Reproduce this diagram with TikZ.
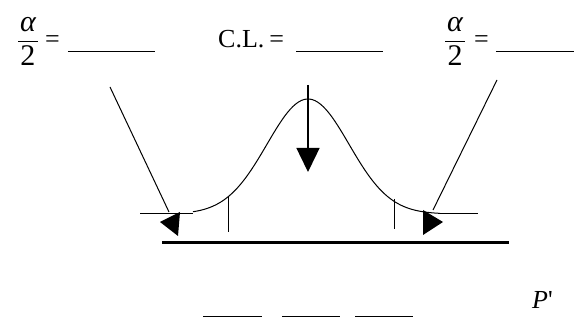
\documentclass[tikz,border=0pt]{standalone}
\usepackage{amsmath}
\usepackage{fontspec}
\setmainfont{Liberation Serif}
\usetikzlibrary{arrows.meta}
\newcommand{\blank}[1]{\rule[-4pt]{#1}{1.3pt}}
\newcommand{\halfalpha}{$\dfrac{\hspace{2pt}\text{\itshape α}\hspace{2pt}}{\text{2}}$}
\tikzset{
  txt/.style  = {inner sep=0pt, font=\fontsize{26}{30}\selectfont},
  frac/.style = {inner sep=0pt, font=\fontsize{30}{34}\selectfont},
  ln/.style   = {line width=1pt, draw=black},
  dn/.style   = {ln, line width=1.4pt, -{Triangle[length=24pt,width=23pt]}},
  axisln/.style = {line width=3pt, draw=black},
  tri/.style  = {fill=black},
}
\begin{document}
\begin{tikzpicture}[x=1pt,y=-1pt]
\useasboundingbox (0,0) rectangle (574,320);
% labels at the top
\node[frac] (fracL) at (28,41) {\halfalpha};
\node[txt, anchor=base west] (eqL) at (45,48) {=\hspace{8pt}\blank{87pt}};
\node[txt, anchor=base west] (cl) at (218,48) {C.L.\hspace{5pt}=\hspace{12pt}\blank{87pt}};
\node[frac] (fracR) at (455,41) {\halfalpha};
\node[txt, anchor=base west] (eqR) at (474,48) {=\hspace{7pt}\blank{80pt}};
% bottom answer blanks
\node[txt, anchor=base west] (ans) at (203,313) {\blank{59pt}\hspace{20pt}\blank{58pt}\hspace{15pt}\blank{58pt}};
\node[txt, anchor=base west] (pp) at (532,309) {\textit{P}\textquotesingle};
% points
\coordinate (startL) at (110,87);
\coordinate (endL) at (169,212);
\coordinate (startR) at (497,80);
\coordinate (endR) at (433,210);
\coordinate (top) at (308,85);
\coordinate (mid) at (308,172);
\coordinate (tickL) at (228,197);
\coordinate (tickLb) at (228,232);
\coordinate (tickR) at (394,199);
\coordinate (tickRb) at (394,229);
\coordinate (hL1) at (140,214);
\coordinate (hL2) at (193,214);
\coordinate (hR1) at (440,214);
\coordinate (hR2) at (478,214);
\coordinate (axL) at (162,243);
\coordinate (axR) at (509,243);
% normal curve
\draw[ln] plot[domain=193:440, samples=90, smooth] (\x,{214-115*exp(-((\x-308)/41)^2/2)});
\draw[ln] (hL1) -- (hL2);
\draw[ln] (hR1) -- (hR2);
\draw[ln] (tickL) -- (tickLb);
\draw[ln] (tickR) -- (tickRb);
\draw[axisln] (axL) -- (axR);
% arrows
\draw[dn] (top) -- (mid);
\draw[ln] (startL) -- (endL);
\fill[tri] (160,222) -- (180,212) -- (178,236) -- cycle;
\draw[ln] (startR) -- (endR);
\fill[tri] (423,210) -- (443,222) -- (423,235) -- cycle;
\end{tikzpicture}
\end{document}
